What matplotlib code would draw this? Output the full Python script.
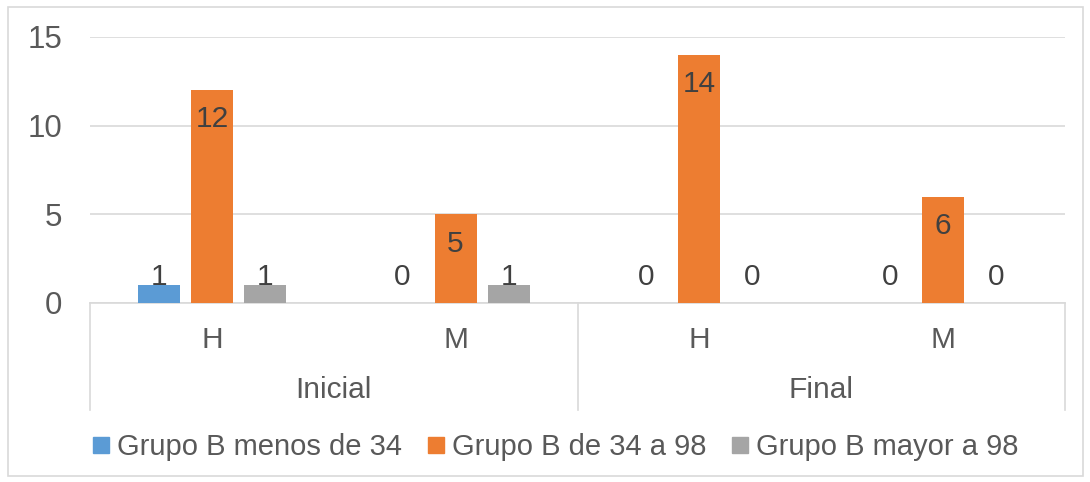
import matplotlib.pyplot as plt
from matplotlib.lines import Line2D
from matplotlib.patches import Rectangle

# datos del gráfico
sexo = ["H", "M", "H", "M"]
momentos = ["Inicial", "Final"]
series = ["Grupo B menos de 34", "Grupo B de 34 a 98", "Grupo B mayor a 98"]
menos_34 = [1, 0, 0, 0]
de_34_98 = [12, 5, 14, 6]
mayor_98 = [1, 1, 0, 0]
colores = ["#5b9bd5", "#ed7d31", "#a5a5a5"]

plt.rcParams["font.family"] = ["Liberation Sans", "DejaVu Sans"]
texto = "#595959"
linea = "#d9d9d9"
fs = 21.5

fig = plt.figure(figsize=(10.9, 4.82), dpi=100)
W, H = 1090, 482
ax = fig.add_axes([90 / W, (H - 303) / H, (1065 - 90) / W, (303 - 37) / H])

# marco exterior
fig.patches.append(Rectangle((8 / W, 6 / H), (1083 - 8) / W, (475 - 6) / H,
                             transform=fig.transFigure, fill=False,
                             edgecolor=linea, linewidth=1.2))

ancho = 0.172
paso = 0.2175
x = range(len(sexo))
for i, (vals, col) in enumerate(zip([menos_34, de_34_98, mayor_98], colores)):
    pos = [xi + (i - 1) * paso for xi in x]
    ax.bar(pos, vals, width=ancho, color=col, zorder=3)
    for p, v in zip(pos, vals):
        y = max(v - 1.65, 1.47)
        ax.text(p, y, str(v), ha="center", va="center", fontsize=fs,
                color="#404040", zorder=4)

ax.set_xlim(-0.5, 3.5)
ax.set_ylim(0, 15)
ax.set_yticks([0, 5, 10, 15])
ax.tick_params(axis="y", length=0, labelsize=22.5, labelcolor=texto, pad=20)
ax.set_xticks([])
ax.grid(axis="y", color=linea, linewidth=1.2, zorder=0)
for s in ["top", "right", "left"]:
    ax.spines[s].set_visible(False)
ax.spines["bottom"].set_color(linea)
ax.spines["bottom"].set_linewidth(1.2)

# ejes de categorías en dos niveles
tr = ax.get_xaxis_transform()
for xi, s in zip(x, sexo):
    ax.text(xi, -0.139, s, transform=tr, ha="center", va="center",
            fontsize=fs, color=texto)
for j, m in enumerate(momentos):
    ax.text(2 * j + 0.5, -0.327, m, transform=tr, ha="center", va="center",
            fontsize=fs, color=texto)
for xs in [-0.5, 1.5, 3.5]:
    ax.plot([xs, xs], [0, -0.402], transform=tr, color=linea, linewidth=1.2,
            clip_on=False)

handles = [Line2D([], [], marker="s", linestyle="none", markersize=11,
                  markerfacecolor=c, markeredgecolor=c) for c in colores]
fig.legend(handles, series, loc="center", bbox_to_anchor=(556 / W, 1 - 447 / H),
           ncol=3, frameon=False, fontsize=21, labelcolor=texto,
           handlelength=0.5, handletextpad=0.3, columnspacing=0.9)

fig.savefig("out.png", dpi=100)
